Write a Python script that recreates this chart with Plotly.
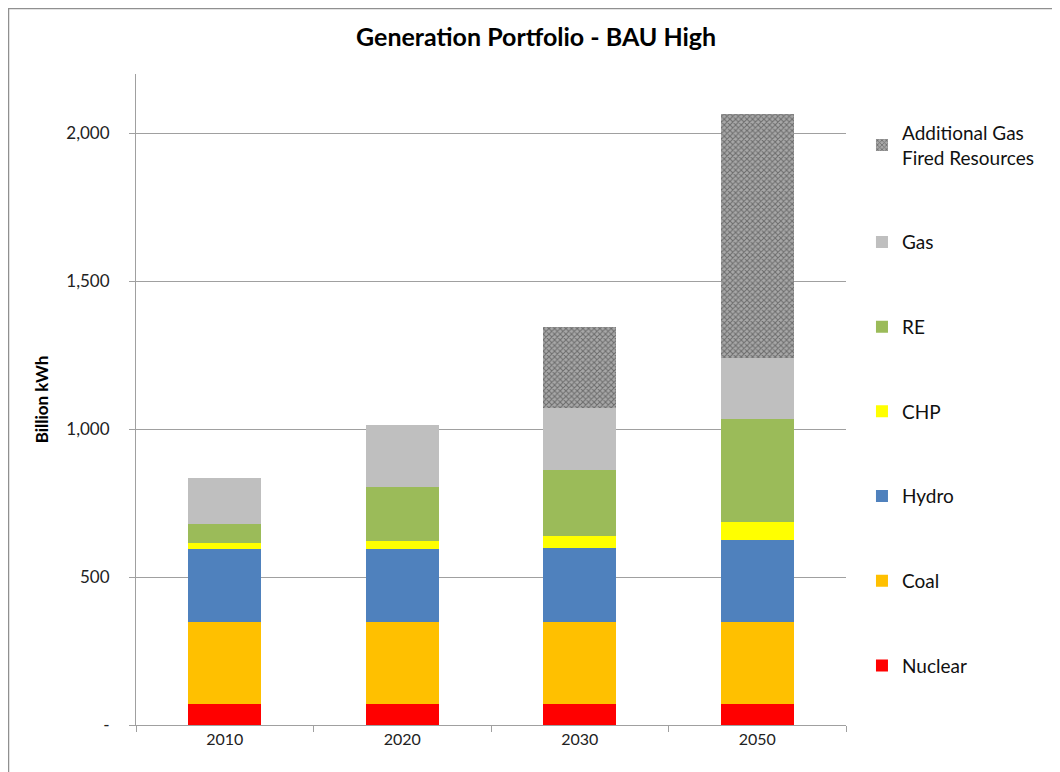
import plotly.graph_objects as go

years = ["2010", "2020", "2030", "2050"]
nuclear = [71, 71, 71, 71]
coal = [277, 277, 277, 277]
hydro = [247, 247, 250, 277]
chp = [20, 27, 40, 61]
re = [64, 182, 223, 348]
gas = [155, 209, 210, 206]
additional = [0, 0, 273, 824]

series = [
    ("Nuclear", nuclear, "#ff0000"),
    ("Coal", coal, "#ffc000"),
    ("Hydro", hydro, "#4f81bd"),
    ("CHP", chp, "#ffff00"),
    ("RE", re, "#9bbb59"),
    ("Gas", gas, "#bfbfbf"),
]

fig = go.Figure()
n = len(series)
for i, (name, vals, col) in enumerate(series):
    fig.add_trace(go.Bar(x=years, y=vals, name=name, marker_color=col,
                         marker_line_width=0, legendgroup=f"g{i}",
                         legendrank=100 + (n - i) * 10))
fig.add_trace(go.Bar(x=years, y=additional, name="Additional Gas<br>Fired Resources",
                     marker=dict(color="#8a8a8a", line_width=0,
                                 pattern=dict(shape="x", fgcolor="#303030", bgcolor="#a8a8a8",
                                              size=4, solidity=0.45)),
                     legendgroup="g6", legendrank=100))

font = "Lato, 'Open Sans', sans-serif"
W, H = 1052, 764
L, R, T, B = 128, 214, 66, 47
fig.update_layout(
    barmode="stack",
    bargap=0.59,
    width=W, height=H,
    margin=dict(l=L, r=R, t=T, b=B, autoexpand=False),
    paper_bgcolor="white", plot_bgcolor="white",
    font=dict(family=font, size=16, color="#222222"),
    title=dict(text="<b>Generation Portfolio - BAU High</b>", x=0.502, xanchor="center",
               y=0.962, yanchor="middle", font=dict(size=25, color="black")),
    legend=dict(x=1.0225, xanchor="left", y=0.939, yanchor="top",
                traceorder="grouped", tracegroupgap=57,
                font=dict(size=19, color="#111111"), itemwidth=30),
    xaxis=dict(showline=True, linecolor="#a0a0a0", ticks="outside", tickson="boundaries",
               ticklen=6, tickcolor="#a0a0a0", tickfont=dict(size=16)),
    yaxis=dict(range=[0, 2200], tickvals=[0, 500, 1000, 1500, 2000],
               ticktext=["-", "500", "1,000", "1,500", "2,000"],
               showgrid=True, gridcolor="#a0a0a0", gridwidth=1,
               showline=True, linecolor="#a0a0a0", ticks="outside", ticklen=6,
               tickcolor="#a0a0a0", tickfont=dict(size=17), ticklabelstandoff=16,
               title=dict(text="<b>Billion kWh</b>", font=dict(size=17, color="black"), standoff=13),
               zeroline=False),
)
pw, ph = W - L - R, H - T - B
fig.add_shape(type="rect", xref="paper", yref="paper",
              x0=(0.5 - L) / pw, x1=(W + 20 - L) / pw,
              y0=(-20 - B) / ph, y1=(H - B - 0.5) / ph,
              line=dict(color="#909090", width=1.5), layer="below")
fig.write_html("out.html")
